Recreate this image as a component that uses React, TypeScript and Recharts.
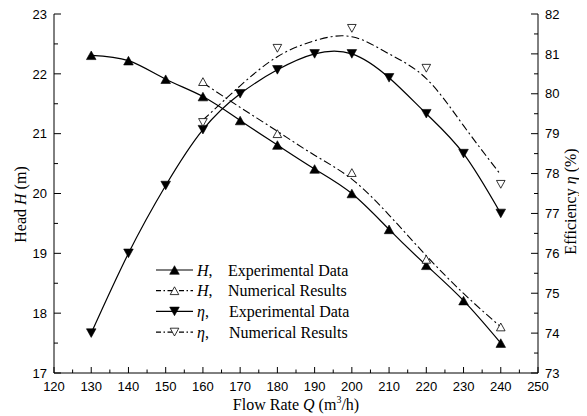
import React from 'react';
import { ComposedChart, Line, XAxis, YAxis, Legend, Label } from 'recharts';

// flow rate (m3/h) for measured points
const flowQ = [130, 140, 150, 160, 170, 180, 190, 200, 210, 220, 230, 240];
const headExp = [22.31, 22.22, 21.91, 21.62, 21.22, 20.81, 20.41, 20.0, 19.4, 18.8, 18.21, 17.5];
const effExp = [74.0, 76.0, 77.7, 79.1, 80.0, 80.6, 81.0, 81.0, 80.4, 79.5, 78.5, 77.0];

// numerical results (CFD)
const numQ = [160, 180, 200, 220, 240];
const headNum = [21.87, 21.0, 20.35, 18.9, 17.77];
const effNum = [79.28, 81.14, 81.64, 80.64, 77.73];

// fitted curves drawn through the numerical results
const fitQ = [160, 170, 180, 190, 200, 210, 220, 230, 240];
const headNumFit = [21.85, 21.44, 21.04, 20.64, 20.24, 19.64, 18.96, 18.33, 17.77];
const effNumFit = [79.34, 80.2, 80.93, 81.33, 81.43, 81.0, 80.38, 79.2, 77.97];

const xTicks = [120, 125, 130, 135, 140, 145, 150, 155, 160, 165, 170, 175, 180, 185, 190, 195, 200, 205, 210, 215, 220, 225, 230, 235, 240, 245, 250];
const headTicks = [17, 17.5, 18, 18.5, 19, 19.5, 20, 20.5, 21, 21.5, 22, 22.5, 23];
const effTicks = [73, 73.5, 74, 74.5, 75, 75.5, 76, 76.5, 77, 77.5, 78, 78.5, 79, 79.5, 80, 80.5, 81, 81.5, 82];

const toRows = (xs: number[], ys: number[]) => xs.map((q, i) => ({ q, v: ys[i] }));

const SANS = 'Liberation Sans, Arial, sans-serif';
const SERIF = 'Liberation Serif, Times New Roman, serif';
const DASH = '8 3 2 3';

type Shape = 'upFilled' | 'upOpen' | 'downFilled' | 'downOpen';

function marker(shape: Shape, cx: number, cy: number, key?: React.Key) {
  const up = shape.startsWith('up');
  const filled = shape.endsWith('Filled');
  const w = filled ? 4.8 : 4.3;
  const h = filled ? 4.3 : 3.9;
  const d = up
    ? `M${cx},${cy - h} L${cx + w},${cy + h} L${cx - w},${cy + h} Z`
    : `M${cx},${cy + h} L${cx + w},${cy - h} L${cx - w},${cy - h} Z`;
  return (
    <path key={key} d={d} fill={filled ? '#000' : '#fff'} stroke="#000" strokeWidth={filled ? 0.6 : 0.8} />
  );
}

const dotOf = (shape: Shape) => (p: any) => {
  if (p.cx == null || p.cy == null) return <g key={p.index} />;
  return marker(shape, p.cx, p.cy, p.index);
};

function BottomTick({ x, y, payload }: any) {
  const major = payload.value % 10 === 0;
  return (
    <g>
      <line x1={x} x2={x} y1={y} y2={y - (major ? 6 : 3.5)} stroke="#000" />
      {major && (
        <text x={x} y={y + 18} textAnchor="middle" fontFamily={SANS} fontSize={13} fill="#000">
          {payload.value}
        </text>
      )}
    </g>
  );
}

function TopTick({ x, y, payload }: any) {
  const major = payload.value % 10 === 0;
  return <line x1={x} x2={x} y1={y} y2={y + (major ? 6 : 3.5)} stroke="#000" />;
}

function LeftTick({ x, y, payload }: any) {
  const major = Number.isInteger(payload.value);
  return (
    <g>
      <line x1={x} x2={x + (major ? 7 : 4)} y1={y} y2={y} stroke="#000" />
      {major && (
        <text x={x - 7} y={y} dy="0.36em" textAnchor="end" fontFamily={SANS} fontSize={13} fill="#000">
          {payload.value}
        </text>
      )}
    </g>
  );
}

function RightTick({ x, y, payload }: any) {
  const major = Number.isInteger(payload.value);
  return (
    <g>
      <line x1={x} x2={x - (major ? 7 : 4)} y1={y} y2={y} stroke="#000" />
      {major && (
        <text x={x + 7} y={y} dy="0.36em" textAnchor="start" fontFamily={SANS} fontSize={13} fill="#000">
          {payload.value}
        </text>
      )}
    </g>
  );
}

function XTitle({ viewBox }: any) {
  const cx = viewBox.x + viewBox.width / 2;
  return (
    <text x={cx} y={viewBox.y + 37} textAnchor="middle" fontFamily={SERIF} fontSize={16} fill="#000">
      Flow Rate <tspan fontStyle="italic">Q</tspan> (m<tspan fontSize={10} dy={-7}>3</tspan>
      <tspan dy={7}>/h)</tspan>
    </text>
  );
}

function LeftTitle({ viewBox }: any) {
  const cx = viewBox.x + 12;
  const cy = viewBox.y + viewBox.height / 2 + 11;
  return (
    <text x={cx} y={cy} dy="0.35em" textAnchor="middle" transform={`rotate(-90 ${cx} ${cy})`} fontFamily={SERIF} fontSize={16} fill="#000">
      Head <tspan fontStyle="italic">H</tspan> (m)
    </text>
  );
}

function RightTitle({ viewBox }: any) {
  const cx = viewBox.x + 32;
  const cy = viewBox.y + viewBox.height / 2 + 8;
  return (
    <text x={cx} y={cy} dy="0.35em" textAnchor="middle" transform={`rotate(-90 ${cx} ${cy})`} fontFamily={SERIF} fontSize={16} fill="#000">
      Efficiency <tspan fontStyle="italic">η</tspan> (%)
    </text>
  );
}

const legendRows: { sym: string; label: string; dashed: boolean; shape: Shape }[] = [
  { sym: 'H', label: 'Experimental Data', dashed: false, shape: 'upFilled' },
  { sym: 'H', label: 'Numerical Results', dashed: true, shape: 'upOpen' },
  { sym: 'η', label: 'Experimental Data', dashed: false, shape: 'downFilled' },
  { sym: 'η', label: 'Numerical Results', dashed: true, shape: 'downOpen' },
];

function LegendBox() {
  return (
    <svg width={240} height={90} style={{ display: 'block' }}>
      {legendRows.map((r, i) => {
        const cy = 12 + i * 20.7;
        return (
          <g key={i}>
            <line x1={8} x2={45} y1={cy} y2={cy} stroke="#000" strokeWidth={1.2} strokeDasharray={r.dashed ? '5 2.5 1.5 2.5' : undefined} />
            {marker(r.shape, 26.5, cy)}
            <text x={49} y={cy} dy="0.35em" fontFamily={SERIF} fontSize={16} fill="#000">
              <tspan fontStyle="italic">{r.sym}</tspan>,
            </text>
            <text x={r.sym === 'H' ? 80 : 81} y={cy} dy="0.35em" fontFamily={SERIF} fontSize={16} fill="#000">
              {r.label}
            </text>
          </g>
        );
      })}
    </svg>
  );
}

export default function App() {
  return (
    <ComposedChart width={579} height={408} margin={{ top: 6, right: 0, bottom: 0, left: 0 }} style={{ background: '#fff' }}>
      <XAxis
        xAxisId="b"
        type="number"
        dataKey="q"
        domain={[120, 250]}
        ticks={xTicks}
        interval={0}
        tickSize={0}
        tickMargin={0}
        height={43}
        tick={<BottomTick />}
        axisLine={{ stroke: '#000' }}
        tickLine={false}
      >
        <Label content={XTitle} />
      </XAxis>
      <XAxis
        xAxisId="t"
        orientation="top"
        type="number"
        dataKey="q"
        domain={[120, 250]}
        ticks={xTicks}
        interval={0}
        tickSize={0}
        tickMargin={0}
        height={0}
        tick={<TopTick />}
        axisLine={{ stroke: '#000' }}
        tickLine={false}
      />
      <YAxis
        yAxisId="left"
        type="number"
        domain={[17, 23]}
        ticks={headTicks}
        interval={0}
        tickSize={0}
        tickMargin={0}
        width={46}
        tick={<LeftTick />}
        axisLine={{ stroke: '#000' }}
        tickLine={false}
      >
        <Label content={LeftTitle} />
      </YAxis>
      <YAxis
        yAxisId="right"
        orientation="right"
        type="number"
        domain={[73, 82]}
        ticks={effTicks}
        interval={0}
        tickSize={0}
        tickMargin={0}
        width={49}
        tick={<RightTick />}
        axisLine={{ stroke: '#000' }}
        tickLine={false}
      >
        <Label content={RightTitle} />
      </YAxis>
      <Legend
        layout="horizontal"
        verticalAlign="middle"
        align="center"
        content={<LegendBox />}
        wrapperStyle={{ left: 140, top: 250, width: 240, height: 90 }}
      />
      <Line
        data={toRows(flowQ, headExp)}
        dataKey="v"
        xAxisId="b"
        yAxisId="left"
        type="natural"
        stroke="#000"
        strokeWidth={1.2}
        dot={dotOf('upFilled')}
        activeDot={false}
        isAnimationActive={false}
      />
      <Line
        data={toRows(fitQ, headNumFit)}
        dataKey="v"
        xAxisId="b"
        yAxisId="left"
        type="natural"
        stroke="#000"
        strokeWidth={1.1}
        strokeDasharray={DASH}
        dot={false}
        activeDot={false}
        isAnimationActive={false}
      />
      <Line
        data={toRows(numQ, headNum)}
        dataKey="v"
        xAxisId="b"
        yAxisId="left"
        stroke="none"
        strokeWidth={0}
        dot={dotOf('upOpen')}
        activeDot={false}
        isAnimationActive={false}
      />
      <Line
        data={toRows(flowQ, effExp)}
        dataKey="v"
        xAxisId="b"
        yAxisId="right"
        type="natural"
        stroke="#000"
        strokeWidth={1.2}
        dot={dotOf('downFilled')}
        activeDot={false}
        isAnimationActive={false}
      />
      <Line
        data={toRows(fitQ, effNumFit)}
        dataKey="v"
        xAxisId="b"
        yAxisId="right"
        type="natural"
        stroke="#000"
        strokeWidth={1.1}
        strokeDasharray={DASH}
        dot={false}
        activeDot={false}
        isAnimationActive={false}
      />
      <Line
        data={toRows(numQ, effNum)}
        dataKey="v"
        xAxisId="b"
        yAxisId="right"
        stroke="none"
        strokeWidth={0}
        dot={dotOf('downOpen')}
        activeDot={false}
        isAnimationActive={false}
      />
    </ComposedChart>
  );
}
